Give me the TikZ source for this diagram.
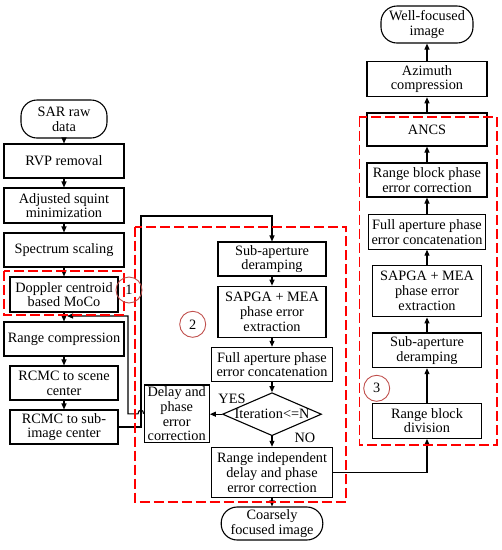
\documentclass[tikz,border=0pt]{standalone}
\usepackage{fontspec}
\setmainfont{Liberation Serif}
\usetikzlibrary{arrows.meta,shapes.geometric}
\newcommand\myfs{\fontsize{14.3}{14.7}\selectfont}
\definecolor{tagred}{HTML}{C0504D}
\begin{document}
\begin{tikzpicture}[x=1pt,y=-1pt,
  base/.style={font=\myfs, align=center, inner sep=0pt},
  proc/.style={base, draw, line width=1.1pt},
  term/.style={base, draw, line width=1.1pt, rounded corners=16pt},
  arr/.style={line width=1.1pt, -{Triangle[length=6pt,width=5pt]}},
  zone/.style={draw=red, line width=1.6pt, dash pattern=on 10pt off 4pt},
  tag/.style={circle, draw=tagred, line width=0.9pt, minimum size=26pt, inner sep=0pt, font=\myfs}]
\useasboundingbox (0,0) rectangle (502,550);
% left column
\node[term, minimum width=86pt, minimum height=38pt] (sar) at (64,119) {SAR raw\\data};
\node[proc, minimum width=120pt, minimum height=34pt] (rvp) at (64,161) {RVP removal};
\node[proc, minimum width=120pt, minimum height=35pt] (asm) at (64,205.5) {Adjusted squint\\minimization};
\node[proc, minimum width=120pt, minimum height=34pt] (ss) at (64,250) {Spectrum scaling};
\node[proc, minimum width=108pt, minimum height=35pt] (dop) at (64,294.5) {Doppler centroid\\based MoCo};
\node[proc, minimum width=120pt, minimum height=34pt] (rc) at (64,339) {Range compression};
\node[proc, minimum width=108pt, minimum height=34pt] (rcs) at (64,383) {RCMC to scene\\center};
\node[proc, minimum width=108pt, minimum height=34pt] (rcsub) at (64,427) {RCMC to sub-\\image center};
% middle column
\node[proc, minimum width=108pt, minimum height=34pt] (sad) at (272,259) {Sub-aperture\\deramping};
\node[proc, minimum width=108pt, minimum height=51pt] (sap) at (272,311.7) {SAPGA + MEA\\phase error\\extraction};
\node[proc, minimum width=120.6pt, minimum height=34.4pt] (fap) at (272,364.5) {Full aperture phase\\error concatenation};
\node[base, diamond, draw, line width=1.1pt, aspect=2.3, minimum width=99pt, minimum height=43pt] (dia) at (272,414.2) {Iteration<=N};
\node[proc, minimum width=65.3pt, minimum height=57.7pt] (dpe) at (176.7,413.8) {Delay and\\phase\\error\\correction};
\node[proc, minimum width=120.6pt, minimum height=50.4pt] (rid) at (272,472.5) {Range independent\\delay and phase\\error correction};
\node[term, minimum width=101.6pt, minimum height=33pt] (cfi) at (272,523.5) {Coarsely\\focused image};
\node[base] (yes) at (232,399) {YES};
\node[base] (no) at (305,438) {NO};
% right column
\node[term, minimum width=92pt, minimum height=37pt] (wfi) at (427,24.5) {Well-focused\\image};
\node[proc, minimum width=120pt, minimum height=35pt] (az) at (427,79.2) {Azimuth\\compression};
\node[proc, minimum width=120pt, minimum height=33pt] (ancs) at (427,129.5) {ANCS};
\node[proc, minimum width=120pt, minimum height=34pt] (rbp) at (427,180) {Range block phase\\error correction};
\node[proc, minimum width=117.4pt, minimum height=34.3pt] (fap2) at (427,232) {Full aperture phase\\error concatenation};
\node[proc, minimum width=108.7pt, minimum height=51.7pt] (sap2) at (427,291) {SAPGA + MEA\\phase error\\extraction};
\node[proc, minimum width=108.7pt, minimum height=34.7pt] (sad2) at (427,350.3) {Sub-aperture\\deramping};
\node[proc, minimum width=108.7pt, minimum height=35.3pt] (rbd) at (427,420.7) {Range block\\division};
% connectors left
\draw[arr] (sar) -- (rvp);
\draw[arr] (rvp) -- (asm);
\draw[arr] (asm) -- (ss);
\draw[arr] (ss) -- (dop);
\draw[arr] (dop) -- (rc);
\draw[arr] (rc) -- (rcs);
\draw[arr] (rcs) -- (rcsub);
\draw[arr] (rcsub.east) -| (141,216) -| (sad.north);
\coordinate (fb) at (67,316);
\draw[arr] (dpe.west) .. controls (144,409) and (138,409) .. (138,413.8) -- (128,413.8) -- (128,316) -- (fb);
% connectors middle
\draw[arr] (sad) -- (sap);
\draw[arr] (sap) -- (fap);
\draw[arr] (fap) -- (dia);
\draw[arr] (dia.west) -- (dia.west -| dpe.east);
\draw[arr] (dia.south) -- (rid.north);
\draw[arr] (rid) -- (cfi);
\draw[arr] (rid.east) -| (rbd.south);
% connectors right
\draw[arr] (rbd) -- (sad2);
\draw[arr] (sad2) -- (sap2);
\draw[arr] (sap2) -- (fap2);
\draw[arr] (fap2) -- (rbp);
\draw[arr] (rbp) -- (ancs);
\draw[arr] (ancs) -- (az);
\draw[arr] (az) -- (wfi);
% zones
\draw[zone] (4,271) rectangle (124,315);
\draw[zone] (135,226.7) rectangle (346,502);
\draw[zone] (359.3,116.7) rectangle (496.7,445);
\node[tag] (t1) at (129,290) {1};
\node[tag] (t2) at (192.7,324.3) {2};
\node[tag] (t3) at (376.7,388.3) {3};
\end{tikzpicture}
\end{document}
